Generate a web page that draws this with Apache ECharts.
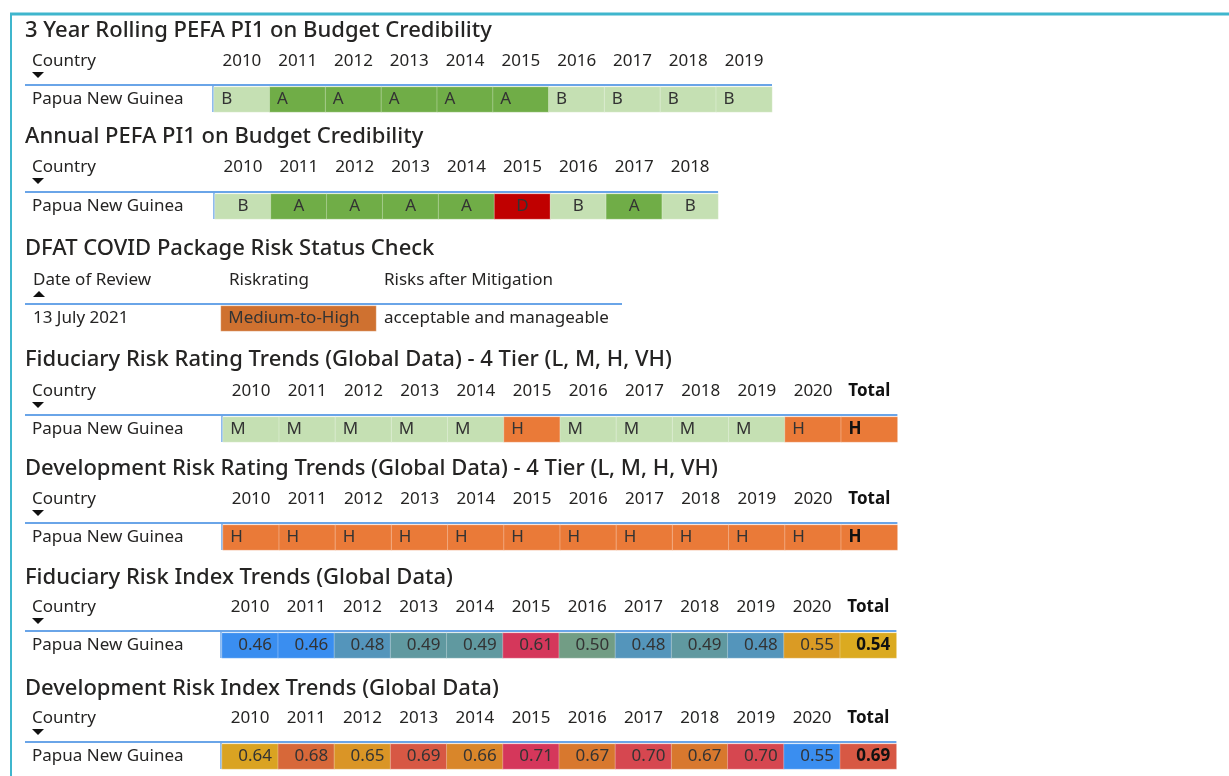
<!DOCTYPE html>
<html>
<head>
<meta charset="utf-8">
<script src="https://cdn.jsdelivr.net/npm/echarts@6/dist/echarts.min.js"></script>
<style>
  html, body { margin: 0; padding: 0; background: #fff; }
  #chart { width: 1229px; height: 776px; }
</style>
</head>
<body>
<div id="chart"></div>
<script>
// ---- data ----
const country = 'Papua New Guinea';
const years2010to2019 = ['2010', '2011', '2012', '2013', '2014', '2015', '2016', '2017', '2018', '2019'];
const years2010to2018 = ['2010', '2011', '2012', '2013', '2014', '2015', '2016', '2017', '2018'];
const years2010toTotal = ['2010', '2011', '2012', '2013', '2014', '2015', '2016', '2017', '2018', '2019', '2020', 'Total'];

const rollingPefa = ['B', 'A', 'A', 'A', 'A', 'A', 'B', 'B', 'B', 'B'];
const annualPefa = ['B', 'A', 'A', 'A', 'A', 'D', 'B', 'A', 'B'];
const fiduciaryRating = ['M', 'M', 'M', 'M', 'M', 'H', 'M', 'M', 'M', 'M', 'H', 'H'];
const developmentRating = ['H', 'H', 'H', 'H', 'H', 'H', 'H', 'H', 'H', 'H', 'H', 'H'];
const fiduciaryIndex = [0.46, 0.46, 0.48, 0.49, 0.49, 0.61, 0.50, 0.48, 0.49, 0.48, 0.55, 0.54];
const developmentIndex = [0.64, 0.68, 0.65, 0.69, 0.66, 0.71, 0.67, 0.70, 0.67, 0.70, 0.55, 0.69];

const covidHeaders = ['Date of Review', 'Riskrating', 'Risks after Mitigation'];
const covidReview = ['13 July 2021', 'Medium-to-High', 'acceptable and manageable'];

const titles = [
  '3 Year Rolling PEFA PI1 on Budget Credibility',
  'Annual PEFA PI1 on Budget Credibility',
  'DFAT COVID Package Risk Status Check',
  'Fiduciary Risk Rating Trends (Global Data) - 4 Tier (L, M, H, VH)',
  'Development Risk Rating Trends (Global Data) - 4 Tier (L, M, H, VH)',
  'Fiduciary Risk Index Trends (Global Data)',
  'Development Risk Index Trends (Global Data)'
];

// ---- styles ----
const FONT = '"Noto Sans", "Segoe UI", sans-serif';
const TEXT = '#252423';
const LINE_BLUE = '#6aa5e8';
const gradeColor = {
  A: '#70ad47', B: '#c5e0b3', D: '#c00000',
  M: '#c5e0b3', H: '#ea7a38', 'Medium-to-High': '#cf7130'
};
const indexColors = ['#3a8ef0', '#6a9c8c', '#dbb21e', '#d8782e', '#d5375b'];

// layout of each table: title centre, header centre, row top, cells left, cell width, label position
const ROW_H = 25;
const tables = [
  { title: 28, header: 61, row: 87, x: 214, w: 55.8, cats: years2010to2019, vals: rollingPefa, kind: 'grade', pos: 'insideLeft' },
  { title: 134, header: 167, row: 194, x: 215, w: 55.9, cats: years2010to2018, vals: annualPefa, kind: 'grade', pos: 'inside' },
  { title: 246, header: 280, row: 306, x: 221, w: 155, cats: [covidHeaders[1]], vals: [covidReview[1]], kind: 'covid', pos: 'insideLeft' },
  { title: 357, header: 391, row: 417, x: 223, w: 56.2, cats: years2010toTotal, vals: fiduciaryRating, kind: 'grade', pos: 'insideLeft' },
  { title: 466, header: 499, row: 525, x: 223, w: 56.2, cats: years2010toTotal, vals: developmentRating, kind: 'grade', pos: 'insideLeft' },
  { title: 575, header: 607, row: 633, x: 222, w: 56.2, cats: years2010toTotal, vals: fiduciaryIndex, kind: 'index', pos: 'insideRight' },
  { title: 686, header: 718, row: 744, x: 222, w: 56.2, cats: years2010toTotal, vals: developmentIndex, kind: 'index', pos: 'insideRight' }
];

const option = {
  backgroundColor: '#fff',
  animation: false,
  title: [], grid: [], xAxis: [], yAxis: [], series: [], visualMap: [], graphic: []
};

// frame
option.graphic.push(
  { type: 'line', shape: { x1: 10, y1: 14, x2: 1229, y2: 14 }, style: { stroke: '#3fb6cd', lineWidth: 3 } },
  { type: 'line', shape: { x1: 11, y1: 14, x2: 11, y2: 776 }, style: { stroke: '#3fb6cd', lineWidth: 2 } }
);

tables.forEach((t, i) => {
  const n = t.cats.length;
  const width = t.w * n;

  option.title.push({
    text: titles[i], left: 25, top: t.title - 8, padding: 0,
    textStyle: { fontFamily: FONT, fontSize: 22, fontWeight: 500, color: TEXT }
  });

  option.grid.push({ left: t.x, top: t.row, width: width, height: ROW_H });

  const isCovid = t.kind === 'covid';
  option.xAxis.push({
    type: 'category', gridIndex: i, position: 'top', data: t.cats,
    axisLine: { show: false }, axisTick: { show: false }, splitLine: { show: false },
    axisLabel: {
      show: !isCovid, interval: 0, margin: t.row - t.header, verticalAlign: 'middle',
      fontFamily: FONT, fontSize: 17, color: TEXT,
      formatter: v => v === 'Total' ? '{b|Total}' : v,
      rich: { b: { fontFamily: FONT, fontSize: 17, fontWeight: 'bold', color: '#111' } }
    }
  });
  option.yAxis.push({
    type: 'category', gridIndex: i, data: [country],
    axisLine: { show: false }, axisTick: { show: false }, splitLine: { show: false },
    axisLabel: {
      show: !isCovid, align: 'left', margin: t.x - 32,
      fontFamily: FONT, fontSize: 17, color: TEXT
    }
  });

  const data = t.vals.map((v, j) => {
    const bold = t.cats[j] === 'Total';
    const item = {
      value: [j, 0, t.kind === 'index' ? v : 1],
      name: String(v),
      label: bold ? { fontWeight: 'bold', color: '#111' } : undefined
    };
    if (t.kind !== 'index') item.itemStyle = { color: gradeColor[v] };
    return item;
  });

  option.series.push({
    type: 'heatmap', xAxisIndex: i, yAxisIndex: i, data: data,
    itemStyle: { borderColor: 'rgba(255,255,255,0.3)', borderWidth: 1 },
    label: {
      show: true, position: t.pos, distance: t.pos === 'insideRight' ? 7 : 8,
      fontFamily: FONT, fontSize: 17, color: '#333',
      formatter: p => t.kind === 'index' ? p.value[2].toFixed(2) : p.name
    },
    emphasis: { disabled: true }
  });

  if (t.kind === 'index') {
    option.visualMap.push({
      type: 'continuous', show: false, seriesIndex: i, dimension: 2,
      min: Math.min(...t.vals), max: Math.max(...t.vals),
      inRange: { color: indexColors }
    });
  }

  // header rule and left cell border
  const lineEnd = isCovid ? 622 : t.x + width;
  option.graphic.push({
    type: 'line', shape: { x1: 25, y1: t.row - 2, x2: lineEnd, y2: t.row - 2 },
    style: { stroke: LINE_BLUE, lineWidth: 2 }
  });
  if (!isCovid) {
    option.graphic.push({
      type: 'line', shape: { x1: t.x - 1, y1: t.row - 2, x2: t.x - 1, y2: t.row + ROW_H },
      style: { stroke: LINE_BLUE, lineWidth: 1.5 }
    });
  }

  // sort header text and arrow
  const headX = isCovid ? 33 : 32;
  option.graphic.push({
    type: 'text', style: {
      text: isCovid ? covidHeaders[0] : 'Country', x: headX, y: t.header,
      font: '17px ' + FONT, fill: TEXT, verticalAlign: 'middle'
    }
  });
  const ay = t.header + 14;
  option.graphic.push({
    type: 'polygon',
    shape: { points: isCovid ? [[33, ay + 3], [45, ay + 3], [39, ay - 3]] : [[32, ay - 3], [44, ay - 3], [38, ay + 3]] },
    style: { fill: '#111' }
  });

  if (isCovid) {
    option.graphic.push(
      { type: 'text', style: { text: covidHeaders[1], x: 229, y: t.header, font: '17px ' + FONT, fill: TEXT, verticalAlign: 'middle' } },
      { type: 'text', style: { text: covidHeaders[2], x: 384, y: t.header, font: '17px ' + FONT, fill: TEXT, verticalAlign: 'middle' } },
      { type: 'text', style: { text: covidReview[0], x: 33, y: t.row + ROW_H / 2, font: '17px ' + FONT, fill: TEXT, verticalAlign: 'middle' } },
      { type: 'text', style: { text: covidReview[2], x: 384, y: t.row + ROW_H / 2, font: '17px ' + FONT, fill: TEXT, verticalAlign: 'middle' } }
    );
  }
});

const chart = echarts.init(document.getElementById('chart'));
chart.setOption(option);
</script>
</body>
</html>
